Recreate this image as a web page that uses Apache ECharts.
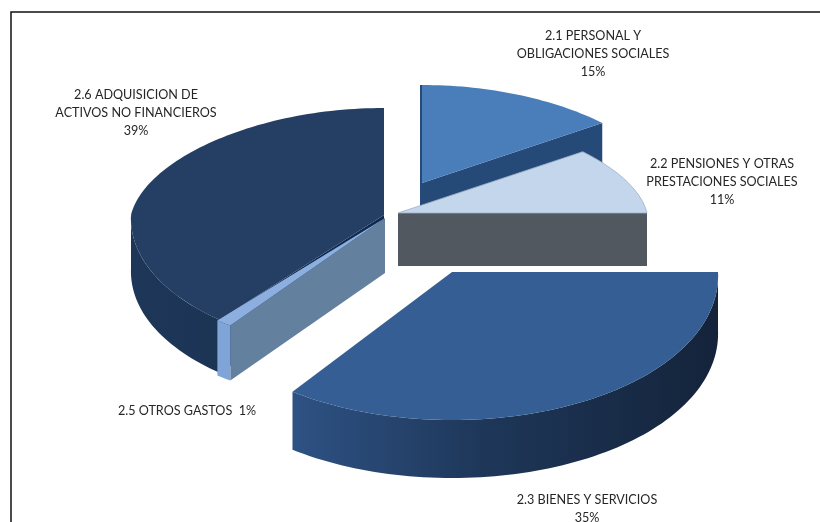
<!DOCTYPE html>
<html><head><meta charset="utf-8">
<style>html,body{margin:0;padding:0;background:#fff}#c{width:820px;height:522px}</style>
<script src="https://cdn.jsdelivr.net/npm/echarts@6/dist/echarts.min.js"></script>
</head><body><div id="c"></div>
<script>
// DATA
const categories = ['2.1 PERSONAL Y\nOBLIGACIONES SOCIALES','2.2 PENSIONES Y OTRAS\nPRESTACIONES SOCIALES','2.3 BIENES Y SERVICIOS','2.5 OTROS GASTOS','2.6 ADQUISICION DE\nACTIVOS NO FINANCIEROS'];
const values = [14.5, 10.5, 35, 1, 39];
const percentLabels = ['15%','11%','35%','1%','39%'];

// LAYOUT / STYLE (exploded position of each slice and its label)
const centers = [[422,183],[398,213],[452,272],[385,218],[384,215]];
const radiiX = [243,249,266,258,253];
const radiiBack = [98,100,100,100,107];
const radiiFront = [130,130,148,133,136];
const depths = [53,53,58,55,53];
const drawOrder = [1,2,5,4,3];
const labelPos = [[593,54],[722,182],[587,509],[187,411],[136,113]];
const inlineLabel = [false,false,false,true,false];
const topColors = ['#4a7ebb','#c3d6ec','#355f94','#8cafe0','#243f63'];
const faceColors = ['#254a78','#525860','#243f63','#64809f','#0f2a4f'];
const wallStops = [
  [[0,'#254a78'],[1,'#254a78']],
  [[0,'#525860'],[1,'#525860']],
  [[0,'#2e5284'],[0.45,'#1e3759'],[1,'#14233a']],
  [[0,'#7fa5d8'],[1,'#7fa5d8']],
  [[0,'#1e3658'],[1,'#1c3454']]
];
const BACK_NARROW = 0.1, FRONT_WIDE = 0.025;
const total = values.reduce((a,b)=>a+b,0);

function project(i, deg){
  const a = deg*Math.PI/180, u = Math.sin(a), v = Math.cos(a);
  const xf = v>0 ? 1-BACK_NARROW*v : 1-FRONT_WIDE*v;
  return [centers[i][0]+radiiX[i]*u*xf, centers[i][1]-(v>0?radiiBack[i]:radiiFront[i])*v];
}
function arc(i,a1,a2){
  const n = Math.max(2,Math.ceil((a2-a1)/1.5)), pts=[];
  for(let k=0;k<=n;k++) pts.push(project(i,a1+(a2-a1)*k/n));
  return pts;
}
function renderItem(params, api){
  const i = params.dataIndex, z = drawOrder[i]*10, d = depths[i];
  let before = 0; for(let k=0;k<i;k++) before += values[k];
  const a1 = before/total*360, a2 = a1+api.value(1)/total*360;
  const down = p=>[p[0],p[1]+d], c = centers[i], kids = [];
  const face = a=>{
    const o = project(i,a);
    kids.push({type:'polygon',z2:z,shape:{points:[c,o,down(o),down(c)]},style:{fill:faceColors[i]}});
  };
  if(Math.sin(a2*Math.PI/180)>0.01) face(a2);
  if(Math.sin(a1*Math.PI/180)<-0.01) face(a1);
  if(a1<0.01){
    const o = project(i,a1);
    kids.push({type:'line',z2:z,shape:{x1:o[0]-1,y1:o[1],x2:c[0]-1,y2:c[1]+d},style:{stroke:faceColors[i],lineWidth:2}});
  }
  const w1 = Math.max(a1,90), w2 = Math.min(a2,270);
  if(w2>w1){
    const top = arc(i,w1,w2), pts = top.concat(top.slice().reverse().map(down));
    kids.push({type:'polygon',z2:z+1,shape:{points:pts},style:{fill:{type:'linear',x:0,y:0,x2:1,y2:0,
      colorStops:wallStops[i].map(s=>({offset:s[0],color:s[1]}))}}});
  }
  kids.push({type:'polygon',z2:z+2,shape:{points:[c].concat(arc(i,a1,a2))},
    style:{fill:topColors[i],stroke:i===1?'#9fb0c4':'none',lineWidth:i===1?0.8:0}});
  const txt = inlineLabel[i] ? categories[i]+'  '+percentLabels[i] : categories[i]+'\n'+percentLabels[i];
  kids.push({type:'text',z2:100,style:{text:txt,x:labelPos[i][0],y:labelPos[i][1],align:'center',verticalAlign:'middle',
    font:'12.6px Lato',lineHeight:18,fill:'#262626'}});
  return {type:'group',children:kids};
}
const chart = echarts.init(document.getElementById('c'),null,{renderer:'canvas'});
chart.setOption({
  animation:false,
  backgroundColor:'#fff',
  graphic:[{type:'polyline',shape:{points:[[820,12],[11,12],[11,522]]},style:{stroke:'#111',lineWidth:1.5,fill:'none'},silent:true}],
  series:[{type:'custom',coordinateSystem:'none',renderItem,
    data:values.map((v,i)=>({name:categories[i].replace('\n',' '),value:[i,v]}))}]
});
</script></body></html>
